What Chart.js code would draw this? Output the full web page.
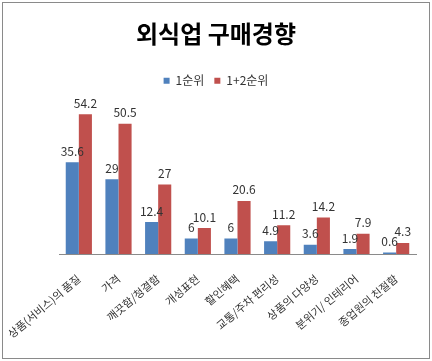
<!DOCTYPE html>
<html><head><meta charset="utf-8">
<script src="https://cdn.jsdelivr.net/npm/chart.js@4.4.1/dist/chart.umd.min.js"></script>
<style>
html,body{margin:0;padding:0;background:#fff;}
#wrap{position:absolute;left:0;top:0;width:432px;height:361px;}
#frame{position:absolute;left:2px;top:2px;width:426px;height:355px;border:1px solid #8a8a8a;pointer-events:none;}
</style></head>
<body>
<div id="wrap"><canvas id="c" width="432" height="361"></canvas><div id="frame"></div></div>
<script>
const categories = ["상품(서비스)의 품질","가격","깨끗함/청결함","개성표현","할인혜택","교통/주차 편리성","상품의 다양성","분위기/ 인테리어","종업원의 친절함"];
const rank1 = [35.6, 29, 12.4, 6, 6, 4.9, 3.6, 1.9, 0.6];
const rank12 = [54.2, 50.5, 27, 10.1, 20.6, 11.2, 14.2, 7.9, 4.3];
const seriesNames = ["1순위", "1+2순위"];
const FONT = "'Noto Sans CJK KR', 'Noto Sans', sans-serif";

const valueLabels = {
  id: 'valueLabels',
  afterDatasetsDraw(chart) {
    const ctx = chart.ctx;
    ctx.save();
    ctx.font = "12px " + FONT;
    ctx.fillStyle = "#333333";
    ctx.textAlign = "center";
    ctx.textBaseline = "bottom";
    chart.data.datasets.forEach((ds, i) => {
      const meta = chart.getDatasetMeta(i);
      meta.data.forEach((el, j) => {
        ctx.fillText(String(ds.data[j]), el.x, el.y - 5);
      });
    });
    ctx.restore();
  }
};

new Chart(document.getElementById('c'), {
  type: 'bar',
  data: {
    labels: categories,
    datasets: [
      { label: seriesNames[0], data: rank1, backgroundColor: '#4F81BD', borderWidth: 0 },
      { label: seriesNames[1], data: rank12, backgroundColor: '#C0504D', borderWidth: 0 }
    ]
  },
  options: {
    responsive: false,
    animation: false,
    devicePixelRatio: 1,
    layout: { padding: { left: 16, right: 16, top: 10, bottom: 0 } },
    plugins: {
      title: { display: true, text: "외식업 구매경향", font: { family: FONT, size: 24, weight: 'bold' }, color: '#000', padding: { top: 9, bottom: 17 } },
      legend: { display: true, position: 'top', labels: { font: { family: FONT, size: 12 }, color: '#333', boxWidth: 6, boxHeight: 6, padding: 10 } },
      tooltip: { enabled: false }
    },
    scales: {
      x: {
        grid: { display: false, drawTicks: false },
        border: { display: true, color: '#8a8a8a' },
        ticks: { autoSkip: false, maxRotation: 40, minRotation: 40, color: '#333', font: { family: FONT, size: 11 }, padding: 18 },
        afterFit: (scale) => { scale.height = 107; scale.paddingLeft = 59; scale.paddingRight = 16; }
      },
      y: { display: false, min: 0, max: 61 }
    },
    datasets: { bar: { categoryPercentage: 0.66, barPercentage: 1 } }
  },
  plugins: [valueLabels]
});
</script>
</body></html>
